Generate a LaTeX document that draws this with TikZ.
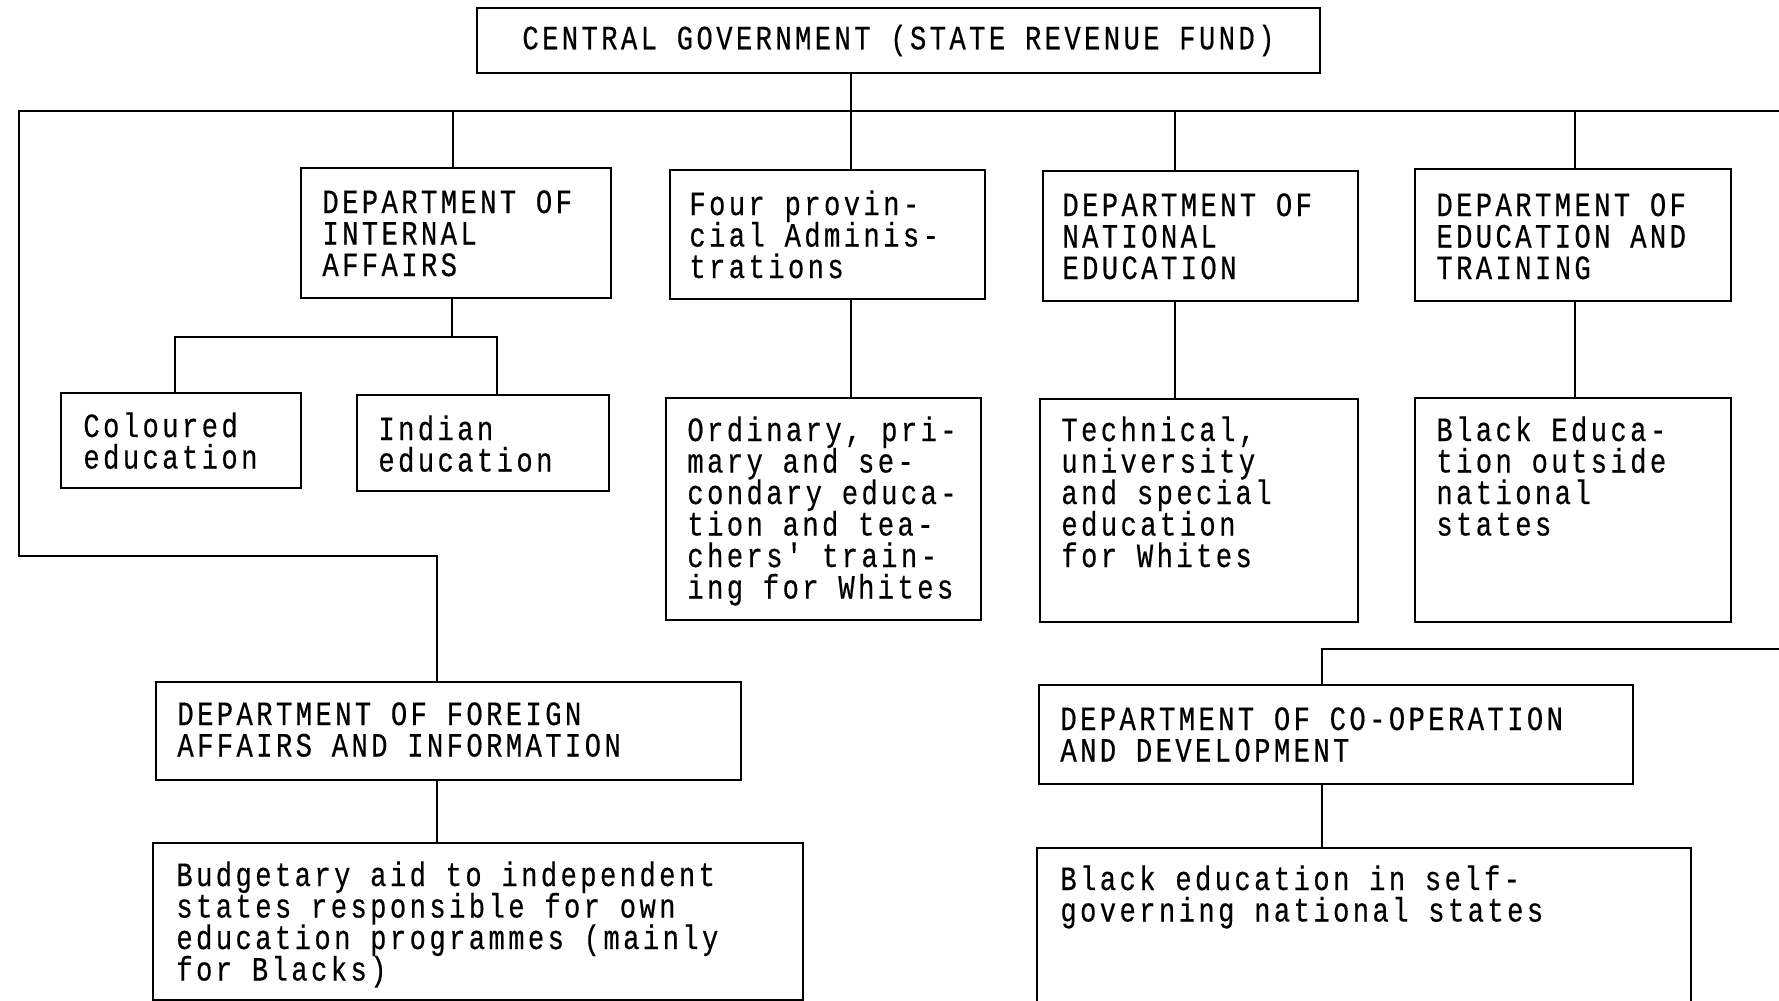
\documentclass[tikz,border=0pt]{standalone}
\usepackage{fontspec}
% narrow typewriter face with open letter spacing
\newfontfamily\tw{Liberation Mono}[Ligatures=TeXOff,FakeStretch=0.8,LetterSpace=10,FakeBold=0.4]
\newcommand\orgbox[5]{\node[box,minimum width={(#4-#2)*0.5pt},minimum height={(#5-#3)*0.5pt}] (#1) at (#2,#3) {};}
% line pitch of the box texts (in picture units); multi-line nodes sit on their last baseline
\newcommand\lp{31.5}
\newcommand\twfont{\tw\fontsize{17}{15.75}\selectfont\lineskiplimit=-100pt\relax}
\begin{document}
\begin{tikzpicture}[x=0.5pt,y=-0.5pt,
  box/.style={draw,line width=1pt,inner sep=0pt,anchor=north west},
  txt/.style={font=\twfont,anchor=base west,align=left,inner sep=0pt,yshift=-1.5pt},
  link/.style={line width=1.1pt}]
\useasboundingbox (0,0) rectangle (1779,1001);
\clip (0,0) rectangle (1779,1001);

% boxes
\node[box,minimum width={(1319-476)*0.5pt},minimum height={(72-7)*0.5pt},
  font=\twfont] (cg) at (476,7) {CENTRAL GOVERNMENT (STATE REVENUE FUND)};
\orgbox{internal}{300}{167}{610}{297}
\orgbox{four}{669}{169}{984}{298}
\orgbox{national}{1042}{170}{1357}{300}
\orgbox{et}{1414}{168}{1730}{300}
\orgbox{coloured}{60}{392}{300}{487}
\orgbox{indian}{356}{394}{608}{490}
\orgbox{ordinary}{665}{397}{980}{619}
\orgbox{technical}{1039}{398}{1357}{621}
\orgbox{blackedu}{1414}{397}{1730}{621}
\orgbox{foreign}{155}{681}{740}{779}
\orgbox{budget}{152}{842}{802}{999}
\orgbox{coop}{1038}{684}{1632}{783}
\orgbox{blackself}{1036}{847}{1690}{1012}

% box texts (first baseline + (lines-1) * pitch)
\node[txt] (t-internal) at (322,{210+2*\lp}) {DEPARTMENT OF\\INTERNAL\\AFFAIRS};
\node[txt] (t-four) at (689,{212+2*\lp}) {Four provin-\\cial Adminis-\\trations};
\node[txt] (t-national) at (1062,{213+2*\lp}) {DEPARTMENT OF\\NATIONAL\\EDUCATION};
\node[txt] (t-et) at (1436,{213+2*\lp}) {DEPARTMENT OF\\EDUCATION AND\\TRAINING};
\node[txt] (t-coloured) at (83,{434+\lp}) {Coloured\\education};
\node[txt] (t-indian) at (378,{437+\lp}) {Indian\\education};
\node[txt] (t-ordinary) at (687,{438+5*\lp}) {Ordinary, pri-\\mary and se-\\condary educa-\\tion and tea-\\chers' train-\\ing for Whites};
\node[txt] (t-technical) at (1061,{438+4*\lp}) {Technical,\\university\\and special\\education\\for Whites};
\node[txt] (t-blackedu) at (1436,{438+3*\lp}) {Black Educa-\\tion outside\\national\\states};
\node[txt] (t-foreign) at (177,{722+\lp}) {DEPARTMENT OF FOREIGN\\AFFAIRS AND INFORMATION};
\node[txt] (t-budget) at (176,{883+3*\lp}) {Budgetary aid to independent\\states responsible for own\\education programmes (mainly\\for Blacks)};
\node[txt] (t-coop) at (1060,{727+\lp}) {DEPARTMENT OF CO-OPERATION\\AND DEVELOPMENT};
\node[txt] (t-blackself) at (1060,{887+\lp}) {Black education in self-\\governing national states};

% connector positions
\coordinate (trunk) at (851,111);
\coordinate (busW) at (19,111);
\coordinate (busE) at (1790,111);
\coordinate (iax) at (453,111);
\coordinate (natx) at (1175,111);
\coordinate (etx) at (1575,111);
\coordinate (split) at (452,337);
\coordinate (colx) at (175,337);
\coordinate (indx) at (497,337);
\coordinate (elbow) at (437,556);
\coordinate (coopbus) at (1322,649);
\coordinate (coopE) at (1790,649);

% connectors
\draw[link] (trunk |- cg.south) -- (trunk |- four.north);
\draw[link] (busE) -- (busW) -- (busW |- elbow) -- (elbow) -- (elbow |- foreign.north);
\draw[link] (iax) -- (iax |- internal.north);
\draw[link] (natx) -- (natx |- national.north);
\draw[link] (etx) -- (etx |- et.north);
\draw[link] (split |- internal.south) -- (split);
\draw[link] (colx |- coloured.north) -- (colx) -- (indx) -- (indx |- indian.north);
\draw[link] (trunk |- four.south) -- (trunk |- ordinary.north);
\draw[link] (natx |- national.south) -- (natx |- technical.north);
\draw[link] (etx |- et.south) -- (etx |- blackedu.north);
\draw[link] (elbow |- foreign.south) -- (elbow |- budget.north);
\draw[link] (coopE) -- (coopbus) -- (coopbus |- coop.north);
\draw[link] (coopbus |- coop.south) -- (coopbus |- blackself.north);
\end{tikzpicture}
\end{document}
